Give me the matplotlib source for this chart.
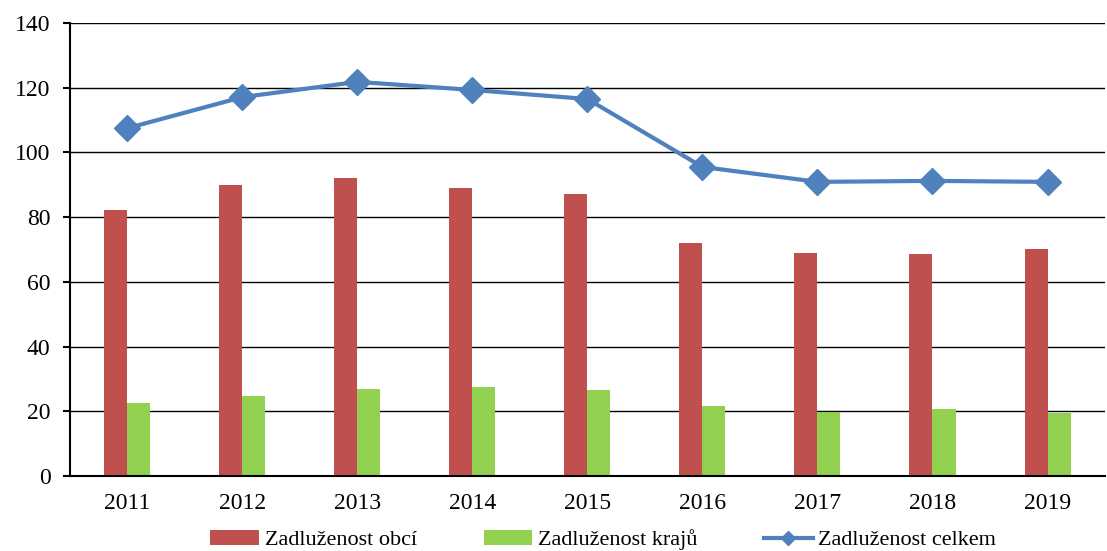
import numpy as np
import matplotlib.pyplot as plt

years = ["2011", "2012", "2013", "2014", "2015", "2016", "2017", "2018", "2019"]
obce = [82.2, 89.9, 92.1, 89.0, 87.1, 72.0, 68.9, 68.6, 70.1]
kraje = [22.6, 24.7, 26.9, 27.5, 26.6, 21.6, 19.8, 20.7, 19.5]
celkem = [107.5, 117.1, 121.8, 119.3, 116.5, 95.5, 90.9, 91.2, 90.9]

plt.rcParams['font.family'] = ['Liberation Serif', 'DejaVu Serif']

fig = plt.figure(figsize=(11.07, 5.51), dpi=100)
ax = fig.add_axes([0.0632, 0.1361, 0.9350, 0.8222])

x = np.arange(len(years))
w = 0.2
b1 = ax.bar(x, obce, width=-w, align='edge', color='#C0504D', label='Zadluženost obcí', zorder=2)
b2 = ax.bar(x, kraje, width=w, align='edge', color='#92D050', label='Zadluženost krajů', zorder=2)
ln, = ax.plot(x, celkem, color='#4F81BD', lw=3, marker='D', ms=13, label='Zadluženost celkem', zorder=3)

ax.set_xlim(-0.5, len(years) - 0.5)
ax.set_ylim(0, 140)
ax.set_yticks(range(0, 141, 20))
ax.set_xticks(x)
ax.set_xticklabels(years)
ax.grid(axis='y', color='black', lw=1, zorder=0)
ax.set_axisbelow(True)

for s in ['top', 'right']:
    ax.spines[s].set_visible(False)
ax.spines['left'].set_linewidth(1.5)
ax.spines['bottom'].set_linewidth(1.5)
ax.tick_params(axis='y', labelsize=17, length=5, width=1.5, pad=9)
ax.tick_params(axis='x', labelsize=17, length=0, pad=12)

fig.legend([b1, b2, ln], ['Zadluženost obcí', 'Zadluženost krajů', 'Zadluženost celkem'],
           loc='center', bbox_to_anchor=(0.545, 0.02), ncol=3, frameon=False,
           fontsize=16, handlelength=2.2, handletextpad=0.25, columnspacing=3.0,
           markerscale=0.55)

fig.savefig('out.png', dpi=100)
